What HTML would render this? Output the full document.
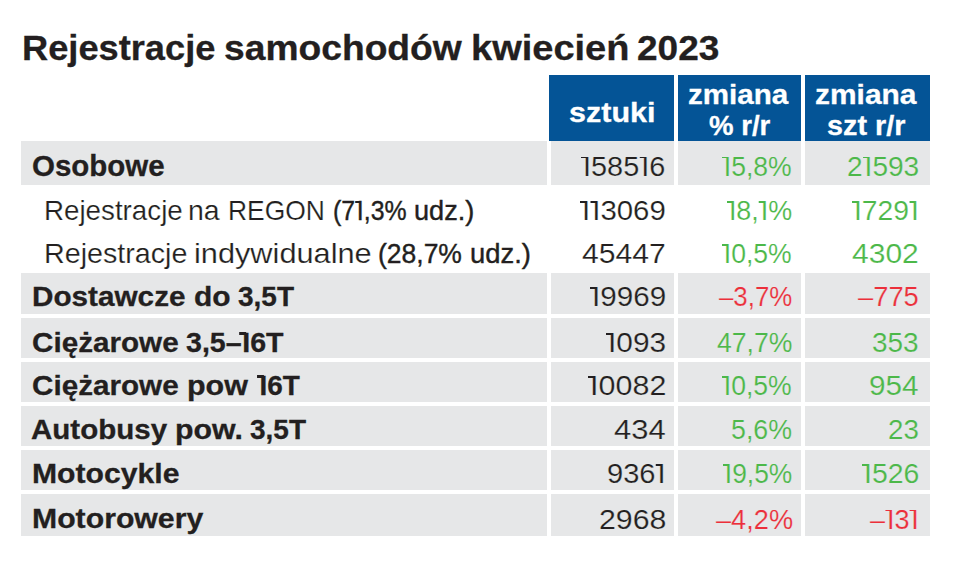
<!DOCTYPE html>
<html><head><meta charset="utf-8"><style>
html,body{margin:0;padding:0;background:#fff;width:960px;height:573px;overflow:hidden;position:relative}
.g{position:absolute;background:#e6e7e8}
.h{position:absolute;background:#045496}

.one{position:relative;margin-left:0.07em}
.one::before{content:"";position:absolute;left:-0.058em;width:0.2em;top:0.205em;height:0.068em;background:currentColor}
.bo .one{margin-left:0.02em}
.bo .one::before{left:-0.1em;width:0.25em;height:0.12em}

.t{position:absolute;font-family:"Liberation Sans",sans-serif;white-space:pre;transform-origin:0 0}
</style></head><body>
<div class="g" style="left:21px;top:141px;width:526px;height:43.5px"></div>
<div class="g" style="left:551px;top:141px;width:123px;height:43.5px"></div>
<div class="g" style="left:678px;top:141px;width:123px;height:43.5px"></div>
<div class="g" style="left:805px;top:141px;width:125px;height:43.5px"></div>
<div class="g" style="left:21px;top:272.5px;width:526px;height:41.2px"></div>
<div class="g" style="left:551px;top:272.5px;width:123px;height:41.2px"></div>
<div class="g" style="left:678px;top:272.5px;width:123px;height:41.2px"></div>
<div class="g" style="left:805px;top:272.5px;width:125px;height:41.2px"></div>
<div class="g" style="left:21px;top:318px;width:526px;height:40.2px"></div>
<div class="g" style="left:551px;top:318px;width:123px;height:40.2px"></div>
<div class="g" style="left:678px;top:318px;width:123px;height:40.2px"></div>
<div class="g" style="left:805px;top:318px;width:125px;height:40.2px"></div>
<div class="g" style="left:21px;top:362px;width:526px;height:39.8px"></div>
<div class="g" style="left:551px;top:362px;width:123px;height:39.8px"></div>
<div class="g" style="left:678px;top:362px;width:123px;height:39.8px"></div>
<div class="g" style="left:805px;top:362px;width:125px;height:39.8px"></div>
<div class="g" style="left:21px;top:406px;width:526px;height:39.6px"></div>
<div class="g" style="left:551px;top:406px;width:123px;height:39.6px"></div>
<div class="g" style="left:678px;top:406px;width:123px;height:39.6px"></div>
<div class="g" style="left:805px;top:406px;width:125px;height:39.6px"></div>
<div class="g" style="left:21px;top:449.6px;width:526px;height:40.0px"></div>
<div class="g" style="left:551px;top:449.6px;width:123px;height:40.0px"></div>
<div class="g" style="left:678px;top:449.6px;width:123px;height:40.0px"></div>
<div class="g" style="left:805px;top:449.6px;width:125px;height:40.0px"></div>
<div class="g" style="left:21px;top:493.8px;width:526px;height:42.0px"></div>
<div class="g" style="left:551px;top:493.8px;width:123px;height:42.0px"></div>
<div class="g" style="left:678px;top:493.8px;width:123px;height:42.0px"></div>
<div class="g" style="left:805px;top:493.8px;width:125px;height:42.0px"></div>
<div class="h" style="left:549px;top:75px;width:125px;height:66px"></div>
<div class="h" style="left:678px;top:75px;width:123px;height:66px"></div>
<div class="h" style="left:805px;top:75px;width:125px;height:66px"></div>
<div class="t bo" style="left:21.68px;top:29.60px;font-size:35px;line-height:35px;color:#231f20;transform:scaleX(1.0351);font-weight:700;-webkit-text-stroke:0.3px currentColor;">Rejestracje</div>
<div class="t bo" style="left:223.94px;top:29.60px;font-size:35px;line-height:35px;color:#231f20;transform:scaleX(1.0632);font-weight:700;-webkit-text-stroke:0.3px currentColor;">samochodów</div>
<div class="t bo" style="left:470.73px;top:29.60px;font-size:35px;line-height:35px;color:#231f20;transform:scaleX(1.0859);font-weight:700;-webkit-text-stroke:0.3px currentColor;">kwiecień</div>
<div class="t bo" style="left:636.84px;top:29.60px;font-size:35px;line-height:35px;color:#231f20;transform:scaleX(1.0579);font-weight:700;-webkit-text-stroke:0.3px currentColor;">2023</div>
<div class="t bo" style="left:568.70px;top:98.90px;font-size:27.8px;line-height:27.8px;color:#ffffff;transform:scaleX(1.0974);font-weight:700;-webkit-text-stroke:0.3px currentColor;">sztuki</div>
<div class="t bo" style="left:687.84px;top:80.80px;font-size:27.8px;line-height:27.8px;color:#ffffff;transform:scaleX(1.0638);font-weight:700;-webkit-text-stroke:0.3px currentColor;">zmiana</div>
<div class="t bo" style="left:708.80px;top:111.60px;font-size:27.8px;line-height:27.8px;color:#ffffff;transform:scaleX(0.9919);font-weight:700;-webkit-text-stroke:0.3px currentColor;">% r/r</div>
<div class="t bo" style="left:814.92px;top:80.90px;font-size:27.8px;line-height:27.8px;color:#ffffff;transform:scaleX(1.0766);font-weight:700;-webkit-text-stroke:0.3px currentColor;">zmiana</div>
<div class="t bo" style="left:827.16px;top:112.30px;font-size:27.8px;line-height:27.8px;color:#ffffff;transform:scaleX(1.0360);font-weight:700;-webkit-text-stroke:0.3px currentColor;">szt r/r</div>
<div class="t bo" style="left:31.88px;top:152.40px;font-size:29px;line-height:29px;color:#231f20;transform:scaleX(1.0163);font-weight:700;-webkit-text-stroke:0.3px currentColor;">Osobowe</div>
<div class="t bo" style="left:32.12px;top:282.00px;font-size:28.5px;line-height:28.5px;color:#231f20;transform:scaleX(1.0421);font-weight:700;-webkit-text-stroke:0.3px currentColor;">Dostawcze</div>
<div class="t bo" style="left:194.25px;top:282.00px;font-size:28.5px;line-height:28.5px;color:#231f20;transform:scaleX(1.0515);font-weight:700;-webkit-text-stroke:0.3px currentColor;">do</div>
<div class="t bo" style="left:238.22px;top:282.00px;font-size:28.5px;line-height:28.5px;color:#231f20;transform:scaleX(0.9821);font-weight:700;-webkit-text-stroke:0.3px currentColor;">3,5T</div>
<div class="t bo" style="left:31.86px;top:327.70px;font-size:28.5px;line-height:28.5px;color:#231f20;transform:scaleX(1.0403);font-weight:700;-webkit-text-stroke:0.3px currentColor;">Ciężarowe</div>
<div class="t bo" style="left:185.70px;top:327.70px;font-size:28.5px;line-height:28.5px;color:#231f20;transform:scaleX(1.0031);font-weight:700;-webkit-text-stroke:0.3px currentColor;">3,5–<span class="one">I</span>6T</div>
<div class="t bo" style="left:31.86px;top:371.00px;font-size:28.5px;line-height:28.5px;color:#231f20;transform:scaleX(1.0403);font-weight:700;-webkit-text-stroke:0.3px currentColor;">Ciężarowe</div>
<div class="t bo" style="left:186.56px;top:371.00px;font-size:28.5px;line-height:28.5px;color:#231f20;transform:scaleX(1.0691);font-weight:700;-webkit-text-stroke:0.3px currentColor;">pow</div>
<div class="t bo" style="left:258.66px;top:371.00px;font-size:28.5px;line-height:28.5px;color:#231f20;transform:scaleX(0.9795);font-weight:700;-webkit-text-stroke:0.3px currentColor;"><span class="one">I</span>6T</div>
<div class="t bo" style="left:30.96px;top:414.60px;font-size:28.5px;line-height:28.5px;color:#231f20;transform:scaleX(1.0362);font-weight:700;-webkit-text-stroke:0.3px currentColor;">Autobusy</div>
<div class="t bo" style="left:175.37px;top:414.60px;font-size:28.5px;line-height:28.5px;color:#231f20;transform:scaleX(1.0633);font-weight:700;-webkit-text-stroke:0.3px currentColor;">pow.</div>
<div class="t bo" style="left:249.82px;top:414.60px;font-size:28.5px;line-height:28.5px;color:#231f20;transform:scaleX(0.9821);font-weight:700;-webkit-text-stroke:0.3px currentColor;">3,5T</div>
<div class="t bo" style="left:31.78px;top:459.10px;font-size:28.5px;line-height:28.5px;color:#231f20;transform:scaleX(1.0577);font-weight:700;-webkit-text-stroke:0.3px currentColor;">Motocykle</div>
<div class="t bo" style="left:31.78px;top:504.40px;font-size:28.5px;line-height:28.5px;color:#231f20;transform:scaleX(1.0600);font-weight:700;-webkit-text-stroke:0.3px currentColor;">Motorowery</div>
<div class="t" style="left:43.62px;top:197.00px;font-size:28px;line-height:28px;color:#231f20;transform:scaleX(0.9905);-webkit-text-stroke:0.2px #ffffff;">Rejestracje</div>
<div class="t" style="left:187.67px;top:197.00px;font-size:28px;line-height:28px;color:#231f20;transform:scaleX(1.0172);-webkit-text-stroke:0.2px #ffffff;">na</div>
<div class="t" style="left:228.11px;top:197.00px;font-size:28px;line-height:28px;color:#231f20;transform:scaleX(0.9434);-webkit-text-stroke:0.2px #ffffff;">REGON</div>
<div class="t" style="left:333.01px;top:197.00px;font-size:28px;line-height:28px;color:#231f20;transform:scaleX(0.8877);font-weight:400;-webkit-text-stroke:0.4px currentColor;">(7<span class="one">I</span>,3%</div>
<div class="t" style="left:414.03px;top:197.00px;font-size:28px;line-height:28px;color:#231f20;transform:scaleX(0.9700);font-weight:400;-webkit-text-stroke:0.4px currentColor;">udz.)</div>
<div class="t" style="left:43.55px;top:240.10px;font-size:28px;line-height:28px;color:#231f20;transform:scaleX(1.0241);-webkit-text-stroke:0.2px #ffffff;">Rejestracje</div>
<div class="t" style="left:193.61px;top:240.10px;font-size:28px;line-height:28px;color:#231f20;transform:scaleX(1.0975);-webkit-text-stroke:0.2px #ffffff;">indywidualne</div>
<div class="t" style="left:378.45px;top:240.10px;font-size:28px;line-height:28px;color:#231f20;transform:scaleX(0.9460);font-weight:400;-webkit-text-stroke:0.4px currentColor;">(28,7%</div>
<div class="t" style="left:470.32px;top:240.10px;font-size:28px;line-height:28px;color:#231f20;transform:scaleX(0.9783);font-weight:400;-webkit-text-stroke:0.4px currentColor;">udz.)</div>
<div class="t" style="left:581.30px;top:152.80px;font-size:28px;line-height:28px;color:#231f20;transform:scaleX(1.0309);-webkit-text-stroke:0.2px #e6e7e8;"><span class="one">I</span>585<span class="one">I</span>6</div>
<div class="t" style="left:722.00px;top:152.80px;font-size:28px;line-height:28px;color:#4cb849;transform:scaleX(0.9479);-webkit-text-stroke:0.2px #e6e7e8;"><span class="one">I</span>5,8%</div>
<div class="t" style="left:846.60px;top:152.80px;font-size:28px;line-height:28px;color:#4cb849;transform:scaleX(1.0029);-webkit-text-stroke:0.2px #e6e7e8;">2<span class="one">I</span>593</div>
<div class="t" style="left:579.80px;top:197.00px;font-size:28px;line-height:28px;color:#231f20;transform:scaleX(1.0494);-webkit-text-stroke:0.2px #ffffff;"><span class="one">I</span><span class="one">I</span>3069</div>
<div class="t" style="left:726.80px;top:197.00px;font-size:28px;line-height:28px;color:#4cb849;transform:scaleX(0.9612);-webkit-text-stroke:0.2px #ffffff;"><span class="one">I</span>8,<span class="one">I</span>%</div>
<div class="t" style="left:852.00px;top:197.00px;font-size:28px;line-height:28px;color:#4cb849;transform:scaleX(1.0094);-webkit-text-stroke:0.2px #ffffff;"><span class="one">I</span>729<span class="one">I</span></div>
<div class="t" style="left:582.02px;top:240.30px;font-size:28px;line-height:28px;color:#231f20;transform:scaleX(1.0750);-webkit-text-stroke:0.2px #ffffff;">45447</div>
<div class="t" style="left:722.00px;top:240.30px;font-size:28px;line-height:28px;color:#4cb849;transform:scaleX(0.9479);-webkit-text-stroke:0.2px #ffffff;"><span class="one">I</span>0,5%</div>
<div class="t" style="left:852.43px;top:240.30px;font-size:28px;line-height:28px;color:#4cb849;transform:scaleX(1.0717);-webkit-text-stroke:0.2px #ffffff;">4302</div>
<div class="t" style="left:589.80px;top:283.00px;font-size:28px;line-height:28px;color:#231f20;transform:scaleX(1.0563);-webkit-text-stroke:0.2px #e6e7e8;"><span class="one">I</span>9969</div>
<div class="t" style="left:719.20px;top:283.00px;font-size:28px;line-height:28px;color:#ec2f3a;transform:scaleX(0.9231);-webkit-text-stroke:0.2px #e6e7e8;">–3,7%</div>
<div class="t" style="left:858.30px;top:283.00px;font-size:28px;line-height:28px;color:#ec2f3a;transform:scaleX(0.9754);-webkit-text-stroke:0.2px #e6e7e8;">–775</div>
<div class="t" style="left:606.20px;top:329.00px;font-size:28px;line-height:28px;color:#231f20;transform:scaleX(1.0655);-webkit-text-stroke:0.2px #e6e7e8;"><span class="one">I</span>093</div>
<div class="t" style="left:717.15px;top:329.00px;font-size:28px;line-height:28px;color:#4cb849;transform:scaleX(0.9494);-webkit-text-stroke:0.2px #e6e7e8;">47,7%</div>
<div class="t" style="left:871.90px;top:329.00px;font-size:28px;line-height:28px;color:#4cb849;transform:scaleX(0.9978);-webkit-text-stroke:0.2px #e6e7e8;">353</div>
<div class="t" style="left:587.60px;top:372.20px;font-size:28px;line-height:28px;color:#231f20;transform:scaleX(1.0873);-webkit-text-stroke:0.2px #e6e7e8;"><span class="one">I</span>0082</div>
<div class="t" style="left:722.00px;top:372.20px;font-size:28px;line-height:28px;color:#4cb849;transform:scaleX(0.9479);-webkit-text-stroke:0.2px #e6e7e8;"><span class="one">I</span>0,5%</div>
<div class="t" style="left:869.04px;top:372.20px;font-size:28px;line-height:28px;color:#4cb849;transform:scaleX(1.0600);-webkit-text-stroke:0.2px #e6e7e8;">954</div>
<div class="t" style="left:614.00px;top:416.00px;font-size:28px;line-height:28px;color:#231f20;transform:scaleX(1.1044);-webkit-text-stroke:0.2px #e6e7e8;">434</div>
<div class="t" style="left:730.99px;top:416.00px;font-size:28px;line-height:28px;color:#4cb849;transform:scaleX(0.9557);-webkit-text-stroke:0.2px #e6e7e8;">5,6%</div>
<div class="t" style="left:887.81px;top:416.00px;font-size:28px;line-height:28px;color:#4cb849;transform:scaleX(0.9897);-webkit-text-stroke:0.2px #e6e7e8;">23</div>
<div class="t" style="left:606.86px;top:459.90px;font-size:28px;line-height:28px;color:#231f20;transform:scaleX(1.0377);-webkit-text-stroke:0.2px #e6e7e8;">936<span class="one">I</span></div>
<div class="t" style="left:722.50px;top:459.90px;font-size:28px;line-height:28px;color:#4cb849;transform:scaleX(0.9411);-webkit-text-stroke:0.2px #e6e7e8;"><span class="one">I</span>9,5%</div>
<div class="t" style="left:862.00px;top:459.90px;font-size:28px;line-height:28px;color:#4cb849;transform:scaleX(1.0145);-webkit-text-stroke:0.2px #e6e7e8;"><span class="one">I</span>526</div>
<div class="t" style="left:598.72px;top:505.80px;font-size:28px;line-height:28px;color:#231f20;transform:scaleX(1.0833);-webkit-text-stroke:0.2px #e6e7e8;">2968</div>
<div class="t" style="left:715.50px;top:505.80px;font-size:28px;line-height:28px;color:#ec2f3a;transform:scaleX(0.9705);-webkit-text-stroke:0.2px #e6e7e8;">–4,2%</div>
<div class="t" style="left:870.10px;top:505.80px;font-size:28px;line-height:28px;color:#ec2f3a;transform:scaleX(0.9646);-webkit-text-stroke:0.2px #e6e7e8;">–<span class="one">I</span>3<span class="one">I</span></div>
</body></html>
